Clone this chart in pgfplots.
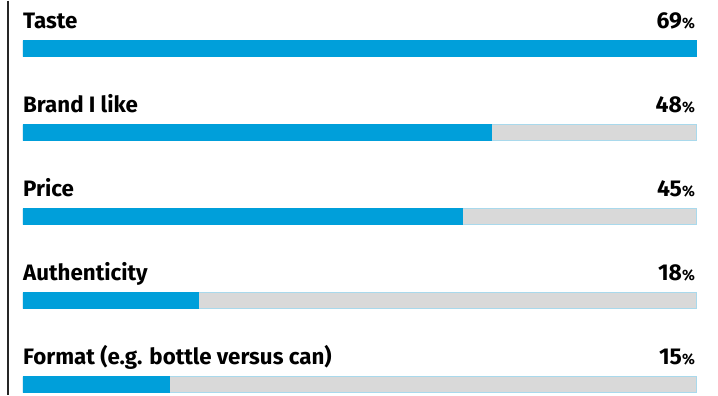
\documentclass[border=0pt]{standalone}
\usepackage{pgfplots}
\pgfplotsset{compat=1.18}
\usepackage{fontspec}
\setmainfont{Fira Sans}
\definecolor{barblue}{HTML}{009FDA}
\definecolor{bargrey}{HTML}{D9D9D9}
\definecolor{edgeblue}{HTML}{A9D9EC}
\newcommand{\lab}[1]{{\fontsize{22.4}{22.4}\selectfont\bfseries #1}}
\newcommand{\pct}[1]{{\fontsize{23}{23}\selectfont\bfseries #1}{\fontsize{15}{15}\selectfont\bfseries\%}}
\begin{document}
\begin{tikzpicture}
\begin{axis}[
  width=718bp, height=394bp, scale only axis,
  xmin=-2.358, xmax=71.255,
  ymin=0, ymax=394, y dir=reverse,
  hide axis, clip=false,
  xbar, bar width=16bp, bar shift=0pt,
]
\path (rel axis cs:0,0) rectangle (rel axis cs:1,1);
\draw[black!85, line width=1.3bp] (axis cs:-1.538,0) -- (axis cs:-1.538,394);
\addplot[fill=bargrey, draw=edgeblue, line width=0.8bp] coordinates {(69,48) (69,132) (69,216) (69,300) (69,384)};
\addplot[fill=barblue, draw=barblue, line width=0.4bp] coordinates {(69,48) (48,132) (45,216) (18,300) (15,384)};
\node[anchor=base west, inner sep=0pt] at (axis cs:0,28) {\lab{Taste}};
\node[anchor=base west, inner sep=0pt] at (axis cs:0,112) {\lab{Brand I like}};
\node[anchor=base west, inner sep=0pt] at (axis cs:0,196) {\lab{Price}};
\node[anchor=base west, inner sep=0pt] at (axis cs:0,280) {\lab{Authenticity}};
\node[anchor=base west, inner sep=0pt] at (axis cs:0,364) {\lab{Format (e.g. bottle versus can)}};
\node[anchor=base east, inner sep=0pt] at (axis cs:68.9,28) {\pct{69}};
\node[anchor=base east, inner sep=0pt] at (axis cs:68.9,112) {\pct{48}};
\node[anchor=base east, inner sep=0pt] at (axis cs:68.9,196) {\pct{45}};
\node[anchor=base east, inner sep=0pt] at (axis cs:68.9,280) {\pct{18}};
\node[anchor=base east, inner sep=0pt] at (axis cs:68.9,364) {\pct{15}};
\end{axis}
\end{tikzpicture}
\end{document}
